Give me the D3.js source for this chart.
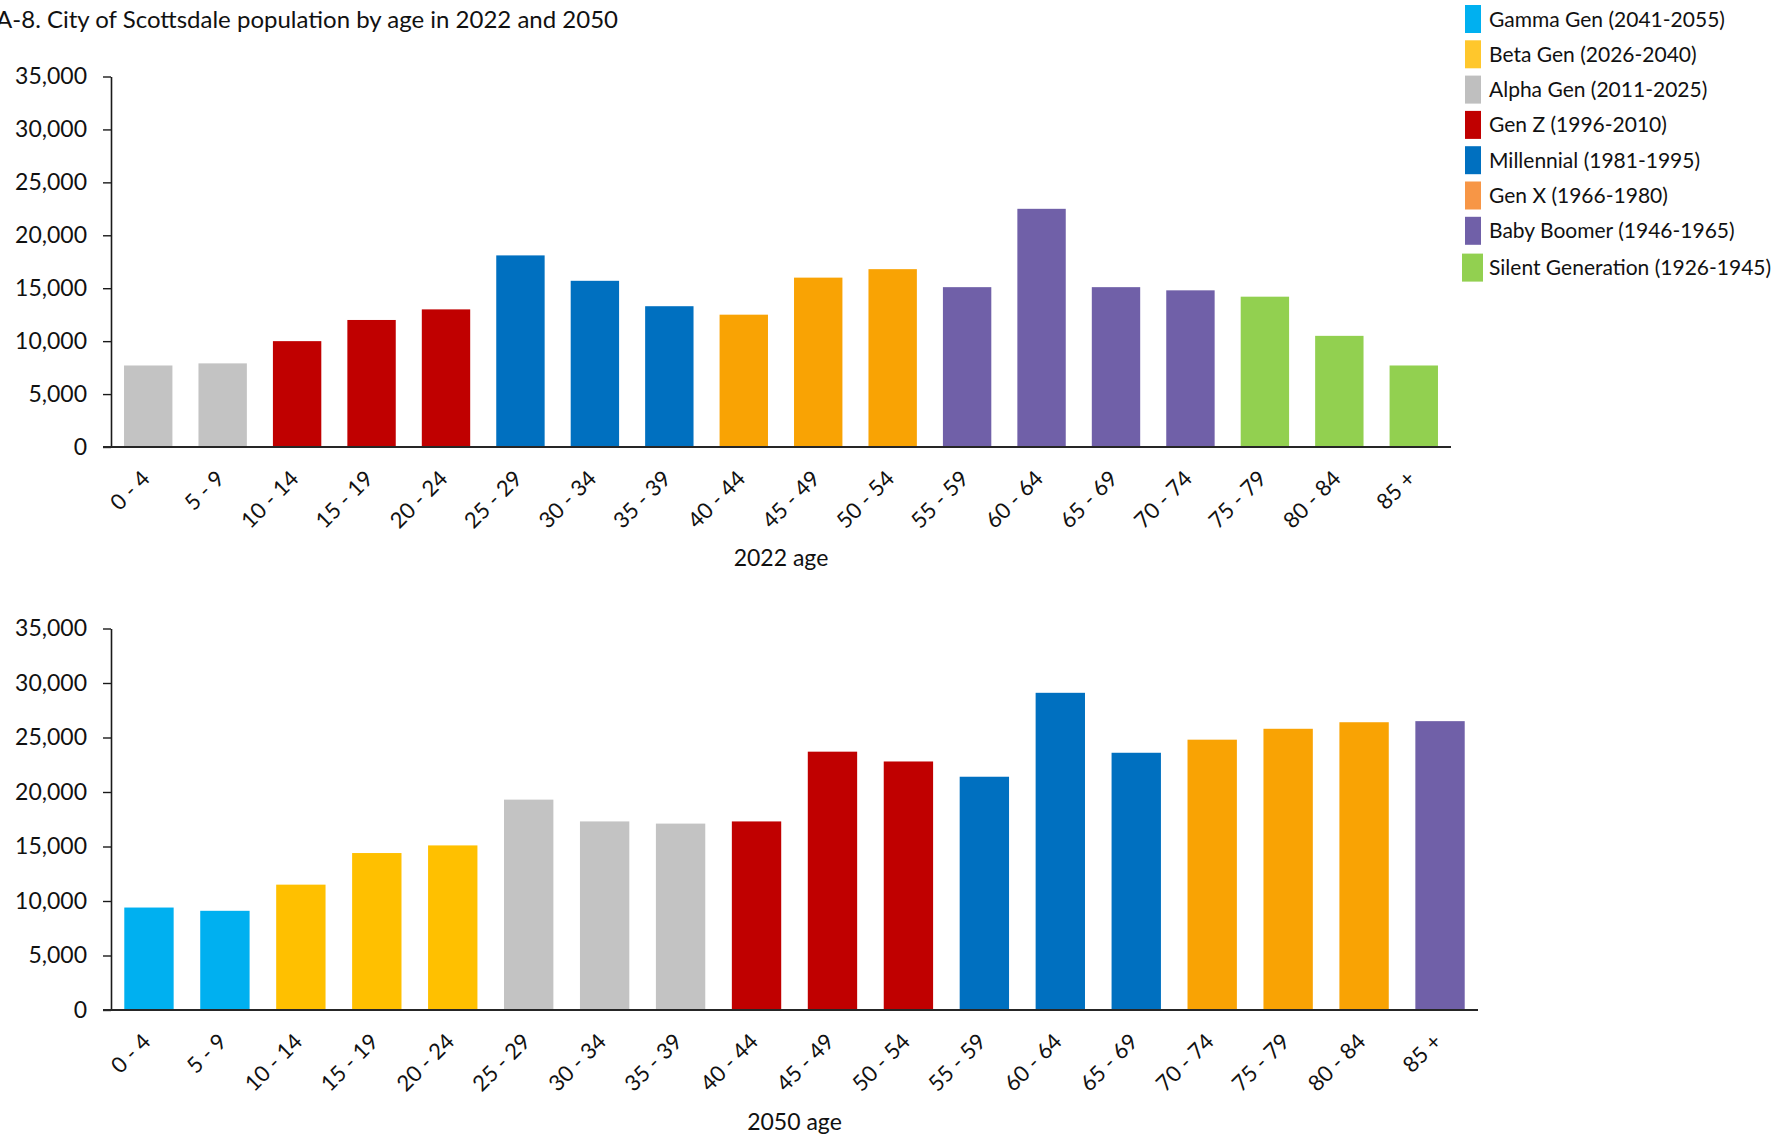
<!DOCTYPE html>
<html>
<head>
<meta charset="utf-8">
<script src="https://cdn.jsdelivr.net/npm/d3@7"></script>
<style>
  html, body { margin: 0; padding: 0; background: #ffffff; }
  svg { display: block; }
  text { font-family: Lato, "Open Sans", "Liberation Sans", sans-serif; fill: #111; }
</style>
</head>
<body>
<svg id="chart" width="1792" height="1137"></svg>
<script>
// Age groups shown on both panels
const ageGroups = ["0 - 4", "5 - 9", "10 - 14", "15 - 19", "20 - 24", "25 - 29", "30 - 34",
  "35 - 39", "40 - 44", "45 - 49", "50 - 54", "55 - 59", "60 - 64", "65 - 69", "70 - 74",
  "75 - 79", "80 - 84", "85 +"];

// Population by age group, 2022
const pop2022 = [7700, 7900, 10000, 12000, 13000, 18100, 15700, 13300, 12500, 16000,
  16800, 15100, 22500, 15100, 14800, 14200, 10500, 7700];

// Population by age group, 2050 (projected)
const pop2050 = [9400, 9100, 11500, 14400, 15100, 19300, 17300, 17100, 17300, 23700,
  22800, 21400, 29100, 23600, 24800, 25800, 26400, 26500];

// Generation each age group belongs to in each year
const gen2022 = ["alpha", "alpha", "genz", "genz", "genz", "mill", "mill", "mill", "genx",
  "genx", "genx", "boom", "boom", "boom", "boom", "silent", "silent", "silent"];
const gen2050 = ["gamma", "gamma", "beta", "beta", "beta", "alpha", "alpha", "alpha", "genz",
  "genz", "genz", "mill", "mill", "mill", "genx", "genx", "genx", "boom"];

// Generations: legend order, bar colour and legend swatch colour
const genKeys = ["gamma", "beta", "alpha", "genz", "mill", "genx", "boom", "silent"];
const genNames = ["Gamma Gen (2041-2055)", "Beta Gen (2026-2040)", "Alpha Gen (2011-2025)",
  "Gen Z (1996-2010)", "Millennial (1981-1995)", "Gen X (1966-1980)",
  "Baby Boomer (1946-1965)", "Silent Generation (1926-1945)"];
const barColors = ["#00B0F0", "#FFC000", "#C3C3C3", "#C00000", "#0070C0", "#F9A304", "#7060A8", "#92D050"];
const swatchColors = ["#00B0F0", "#FFC72C", "#BFBFBF", "#C00000", "#0070C0", "#F79646", "#7060A8", "#92D050"];

const yTicks = [0, 5000, 10000, 15000, 20000, 25000, 30000, 35000];
const titleText = "A-8. City of Scottsdale population by age in 2022 and 2050";

const barColor = d3.scaleOrdinal().domain(genKeys).range(barColors);
const svg = d3.select("#chart");

svg.append("rect").attr("width", 1792).attr("height", 1137).attr("fill", "#fff");

// Title (runs off the left edge of the page)
svg.append("text")
  .attr("x", 618).attr("y", 28)
  .attr("text-anchor", "end")
  .style("font-size", "24px")
  .text(titleText);

function drawPanel(values, gens, axisTitle, box) {
  const x = d3.scaleBand()
    .domain(ageGroups)
    .range([box.left, box.right])
    .paddingInner(0.35)
    .paddingOuter(0.175);
  const y = d3.scaleLinear().domain([0, 35000]).range([box.bottom, box.top]);

  const g = svg.append("g");

  // Bars
  g.selectAll("rect.bar")
    .data(ageGroups)
    .join("rect")
    .attr("class", "bar")
    .attr("x", d => x(d))
    .attr("width", x.bandwidth())
    .attr("y", (d, i) => y(values[i]))
    .attr("height", (d, i) => y(0) - y(values[i]))
    .attr("fill", (d, i) => barColor(gens[i]));

  // Value axis
  const yAxis = g.append("g")
    .attr("transform", `translate(${box.left},0)`)
    .call(d3.axisLeft(y).tickValues(yTicks).tickFormat(d3.format(","))
      .tickSize(8).tickSizeOuter(0).tickPadding(16));
  yAxis.select(".domain").attr("stroke", "#1a1a1a").attr("stroke-width", 1.6);
  yAxis.selectAll(".tick line").attr("stroke", "#1a1a1a").attr("stroke-width", 1.4);
  yAxis.selectAll(".tick text")
    .style("font-size", "23px")
    .style("font-family", "Lato, 'Open Sans', sans-serif")
    .attr("fill", "#111");

  // Category axis with slanted labels
  const xAxis = g.append("g")
    .attr("transform", `translate(0,${box.bottom})`)
    .call(d3.axisBottom(x).tickSize(0).tickPadding(0));
  xAxis.select(".domain").remove();
  xAxis.selectAll(".tick text")
    .attr("x", 3).attr("y", 33).attr("dy", 0)
    .attr("text-anchor", "end")
    .attr("transform", "rotate(-45, 3, 33)")
    .style("font-size", "22px")
    .style("font-family", "Lato, 'Open Sans', sans-serif")
    .attr("fill", "#111");

  // Baseline
  g.append("line")
    .attr("x1", box.left - 8).attr("x2", box.right)
    .attr("y1", box.bottom).attr("y2", box.bottom)
    .attr("stroke", "#262626").attr("stroke-width", 2.2);

  // Axis title
  g.append("text")
    .attr("x", (box.left + box.right) / 2)
    .attr("y", box.titleY)
    .attr("text-anchor", "middle")
    .style("font-size", "23px")
    .text(axisTitle);
}

drawPanel(pop2022, gen2022, "2022 age", { left: 111, right: 1451, top: 76.5, bottom: 447, titleY: 566 });
drawPanel(pop2050, gen2050, "2050 age", { left: 111, right: 1478, top: 628.5, bottom: 1010, titleY: 1130 });

// Legend
const legend = svg.append("g");
genKeys.forEach((k, i) => {
  const last = i === genKeys.length - 1;
  const top = 5 + i * 35.3 + (last ? 1.5 : 0);
  legend.append("rect")
    .attr("x", last ? 1462 : 1465)
    .attr("y", top)
    .attr("width", last ? 21 : 16)
    .attr("height", 28)
    .attr("fill", swatchColors[i]);
  legend.append("text")
    .attr("x", 1489)
    .attr("y", top + 21.5)
    .style("font-size", "21px")
    .text(genNames[i]);
});
</script>
</body>
</html>
